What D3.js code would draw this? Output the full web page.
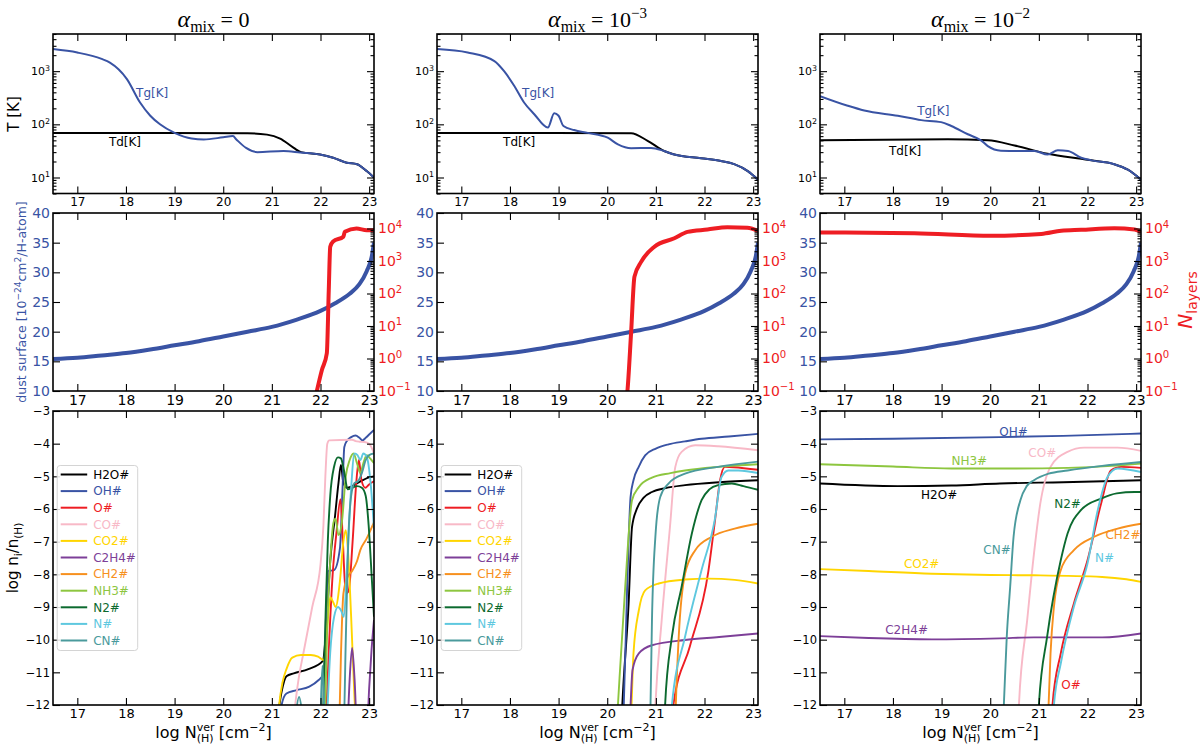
<!DOCTYPE html>
<html>
<head>
<meta charset="utf-8">
<title>alpha_mix panels</title>
<script src="https://d3js.org/d3.v7.min.js"></script>
<style>
  body { margin: 0; background: #fff; }
  svg text { font-family: "DejaVu Sans", sans-serif; }
</style>
</head>
<body>
<script>
// ---------- data ----------
const xDomain = [16.5, 23.1]
const xTicks = [17, 18, 19, 20, 21, 22, 23]
const titleExp = [null, "\u22123", "\u22122"]

// temperatures [K], pairs of [log N, T]
const tg0 = [[16.5,2600],[17.0,2240],[17.5,1700],[17.67,1450],[18.02,710],[18.29,257],[18.5,145],[18.7,100],[19.0,69],[19.35,54],[19.6,52],[20.0,57],[20.2,60],[20.27,52],[20.47,36],[20.7,30],[21.24,31.5],[21.58,29.5],[21.99,27],[22.26,23.5],[22.54,19],[22.75,17.8],[22.95,13.2],[23.1,10]]
const td0 = [[16.5,69],[20.5,68],[20.9,64],[21.17,54],[21.45,36],[21.6,30],[21.99,27],[22.26,23.5],[22.54,19],[22.75,17.8],[22.95,13.2],[23.1,10]]
const tg1 = [[16.5,2600],[17.13,2240],[17.68,1550],[17.88,1000],[18.09,525],[18.29,257],[18.5,155],[18.78,87],[18.91,162],[19.0,145],[19.1,93],[19.32,78],[19.6,69],[20.01,56],[20.22,42],[20.49,35.5],[20.9,36],[21.17,31.5],[21.38,27],[21.93,23],[22.34,20.4],[22.61,17.8],[22.89,13.2],[23.1,9.1]]
const td1 = [[16.5,69],[20.49,68],[20.83,49],[21.17,31.5],[21.38,27],[21.93,23],[22.34,20.4],[22.61,17.8],[22.89,13.2],[23.1,9.1]]
const tg2 = [[16.5,340],[17.07,224],[17.41,182],[18.1,145],[18.58,120],[18.99,110],[19.2,93],[19.54,65],[19.81,50],[19.95,39],[20.22,32],[20.64,31.5],[20.91,31.5],[21.18,27],[21.39,32.5],[21.6,31.5],[21.87,23.5],[22.08,21],[22.55,17.8],[22.83,14],[23.1,9.1]]
const td2 = [[16.5,50],[19.13,52.5],[19.95,50],[20.5,40],[21.18,28],[21.87,22.4],[22.08,21],[22.55,17.8],[22.83,14],[23.1,9.1]]

// dust surface [1e-24 cm2 / H-atom], same in all columns
const dustSurf = [[16.5,15.4],[17,15.6],[17.5,16.0],[18,16.4],[18.5,17.0],[19,17.7],[19.5,18.4],[20,19.2],[20.5,20.0],[21,20.8],[21.5,22.0],[22,23.5],[22.3,24.8],[22.6,26.4],[22.8,28.0],[22.95,30.2],[23.05,32.5],[23.1,35.0]]

// number of ice layers
const nLay0 = [[21.85,0.03],[21.93,0.107],[22.03,0.45],[22.13,1.45],[22.17,126],[22.2,2750],[22.26,4000],[22.47,5600],[22.5,7900],[22.74,10000],[22.95,8900],[23.1,8900]]
const nLay1 = [[20.38,0.03],[20.42,0.12],[20.49,5.9],[20.56,330],[20.7,955],[20.97,2750],[21.38,5000],[21.65,7900],[22.06,9300],[22.47,11000],[22.88,10500],[23.1,8500]]
const nLay2 = [[16.5,7600],[18.44,7200],[20.02,6000],[21.05,6800],[21.46,8500],[21.87,9100],[22.55,10200],[22.97,9300],[23.1,7900]]

// ice abundances log n_i/n_H
const species = ["H2O#","OH#","O#","CO#","CO2#","C2H4#","CH2#","NH3#","N2#","N#","CN#"]
const speciesColor = ["#000000","#3953a4","#ee1d23","#f8b9c7","#ffd500","#7d3f98","#f7901e","#8dc63f","#0c6a2f","#5ec8df","#4a9a9c"]

const H2O_0 = [[21.1,-12.6],[21.2,-11.6],[21.3,-11.12],[21.45,-11.03],[21.75,-10.9],[22.05,-10.65],[22.12,-9.6],[22.2,-7.6],[22.3,-6.2],[22.37,-5.2],[22.42,-4.65],[22.47,-5.2],[22.55,-5.35],[22.65,-5.3],[22.8,-5.17],[23.0,-5.03],[23.1,-5.0]]
const OH_0 = [[21.15,-12.6],[21.2,-12.0],[21.3,-11.65],[21.5,-11.55],[21.77,-11.44],[21.95,-11.25],[22.07,-11.03],[22.12,-9.0],[22.15,-7.9],[22.28,-7.87],[22.4,-7.2],[22.45,-5.5],[22.49,-4.1],[22.55,-3.9],[22.63,-3.8],[22.72,-3.75],[22.8,-3.82],[22.86,-3.9],[22.93,-3.82],[23.0,-3.72],[23.1,-3.58]]
const O_0 = [[22.1,-13],[22.18,-10],[22.25,-8.0],[22.33,-6.7],[22.41,-5.7],[22.46,-7.0],[22.52,-8.6],[22.58,-8.5],[22.66,-7.0],[22.73,-5.3],[22.79,-4.5],[22.84,-5.1],[22.92,-5.35],[23.0,-5.25],[23.1,-5.15]]
const CO_0 = [[21.42,-13],[21.48,-12],[21.55,-11.2],[21.65,-10.4],[21.83,-9.0],[22.0,-7.7],[22.06,-6.5],[22.1,-5.0],[22.14,-4.0],[22.18,-3.9],[22.65,-3.88],[22.72,-3.92],[22.8,-3.94],[22.9,-3.95],[23.0,-4.0],[23.1,-4.3]]
const CO2_0 = [[21.1,-13],[21.15,-12],[21.22,-11.3],[21.3,-10.9],[21.42,-10.55],[21.6,-10.47],[21.8,-10.47],[21.95,-10.52],[22.07,-10.63],[22.14,-9.6],[22.2,-8.7],[22.26,-8.85],[22.31,-9.0],[22.4,-8.2],[22.47,-7.0],[22.52,-6.65],[22.57,-7.4],[22.63,-9.3],[22.7,-11.8],[22.75,-13]]
const C2H4_0 = [[22.55,-13],[22.6,-11.2],[22.65,-10.25],[22.7,-11.2],[22.76,-13],[22.95,-13],[23.0,-11.5],[23.05,-10.3],[23.1,-9.4]]
const CH2_0 = [[22.38,-13],[22.42,-10.5],[22.47,-8.6],[22.55,-8.1],[22.65,-7.9],[22.75,-7.6],[22.82,-7.25],[22.95,-6.9],[23.1,-6.4]]
const NH3_0 = [[22.08,-13],[22.14,-9.5],[22.2,-7.6],[22.27,-6.4],[22.31,-6.3],[22.37,-6.8],[22.44,-6.4],[22.52,-5.0],[22.6,-4.5],[22.68,-4.3],[22.75,-4.6],[22.82,-4.9],[22.88,-4.6],[22.95,-4.35],[23.02,-4.45],[23.1,-4.6]]
const N2_0 = [[22.04,-13],[22.1,-9.5],[22.15,-7.0],[22.2,-5.6],[22.28,-4.7],[22.36,-4.42],[22.42,-4.45],[22.48,-4.8],[22.56,-5.4],[22.65,-5.35],[22.75,-5.3],[22.85,-5.35],[22.93,-5.6],[22.99,-6.5],[23.05,-8.0],[23.1,-9.3]]
const N_0 = [[22.12,-13],[22.2,-10.4],[22.28,-9.3],[22.36,-9.0],[22.42,-9.1],[22.48,-9.3],[22.55,-7.6],[22.62,-5.6],[22.7,-4.3],[22.76,-4.35],[22.82,-4.5],[22.88,-4.3],[22.95,-4.4],[23.03,-5.2],[23.1,-6.6]]
const CN_0 = [[21.45,-13],[21.5,-12.2],[21.56,-11.75],[21.62,-12.2],[21.68,-13],[21.98,-13],[22.04,-10.8],[22.1,-13],[22.47,-13],[22.52,-10.0],[22.57,-7.0],[22.63,-5.6],[22.7,-5.2],[22.77,-5.15],[22.85,-4.9],[22.93,-4.5],[23.0,-4.35],[23.1,-4.3]]

const H2O_1 = [[20.28,-13],[20.31,-12],[20.44,-8.89],[20.51,-6.55],[20.61,-5.99],[20.75,-5.65],[20.92,-5.48],[21.2,-5.36],[21.6,-5.27],[22.3,-5.18],[23.1,-5.12]]
const OH_1 = [[20.3,-13],[20.34,-12],[20.41,-8.38],[20.48,-5.63],[20.54,-5.12],[20.65,-4.7],[20.78,-4.36],[21.0,-4.15],[21.26,-4.02],[21.6,-3.93],[21.94,-3.85],[22.5,-3.78],[23.1,-3.7]]
const O_1 = [[21.33,-13],[21.36,-12],[21.7,-10.2],[22.08,-7.9],[22.22,-6.3],[22.32,-5.12],[22.42,-4.71],[22.6,-4.72],[23.1,-4.8]]
const CO_1 = [[20.96,-13],[20.99,-12],[21.12,-9.4],[21.29,-6.55],[21.4,-4.71],[21.53,-4.25],[21.81,-4.05],[22.28,-4.08],[23.1,-4.2]]
const CO2_1 = [[20.47,-13],[20.5,-12],[20.54,-10.42],[20.65,-9.1],[20.78,-8.49],[21.06,-8.28],[21.6,-8.16],[22.08,-8.13],[22.62,-8.17],[23.1,-8.28]]
const C2H4_1 = [[20.45,-13],[20.48,-12],[20.52,-10.93],[20.65,-10.42],[20.92,-10.17],[21.6,-10.01],[22.3,-9.92],[23.1,-9.81]]
const CH2_1 = [[21.39,-13],[21.41,-12],[21.47,-9.91],[21.6,-7.98],[21.81,-7.26],[22.15,-6.85],[22.62,-6.6],[23.1,-6.45]]
const NH3_1 = [[20.18,-13],[20.22,-12],[20.37,-8.38],[20.51,-5.73],[20.65,-5.33],[20.92,-5.04],[21.3,-4.9],[21.6,-4.82],[22.28,-4.71],[23.1,-4.63]]
const N2_1 = [[21.17,-13],[21.19,-12],[21.33,-9.91],[21.53,-8.38],[21.74,-6.75],[21.94,-5.73],[22.1,-5.4],[22.28,-5.27],[22.56,-5.22],[22.8,-5.3],[23.1,-5.41]]
const N_1 = [[21.3,-13],[21.33,-12],[21.6,-9.91],[21.94,-7.87],[22.21,-6.34],[22.35,-5.02],[22.49,-4.82],[22.7,-4.82],[23.1,-4.9]]
const CN_1 = [[20.87,-13],[20.89,-12],[20.92,-9.4],[20.99,-6.85],[21.09,-5.63],[21.26,-5.22],[21.6,-4.92],[22.28,-4.71],[23.1,-4.55]]

const H2O_2 = [[16.5,-5.22],[18.1,-5.3],[19.2,-5.28],[20.2,-5.22],[21.5,-5.18],[23.1,-5.12]]
const OH_2 = [[16.5,-3.87],[18,-3.85],[20.2,-3.8],[21.5,-3.76],[23.1,-3.69]]
const O_2 = [[21.25,-13],[21.28,-12],[21.45,-10.42],[21.72,-8.89],[22.0,-7.57],[22.28,-5.83],[22.48,-4.82],[22.69,-4.71],[23.1,-4.74]]
const CO_2 = [[20.56,-13],[20.59,-12],[20.76,-9.4],[20.9,-7.36],[21.03,-5.83],[21.24,-4.71],[21.59,-4.25],[21.93,-4.12],[22.62,-4.12],[23.1,-4.22]]
const CO2_2 = [[16.5,-7.84],[17.5,-7.9],[18.8,-7.98],[20.0,-8.02],[20.9,-8.03],[22.3,-8.08],[22.8,-8.15],[23.1,-8.23]]
const C2H4_2 = [[16.5,-9.89],[17.5,-9.95],[18.8,-9.99],[20.2,-9.96],[20.9,-9.93],[22.3,-9.93],[23.1,-9.81]]
const CH2_2 = [[21.18,-13],[21.2,-12],[21.24,-10.42],[21.31,-8.99],[21.45,-7.87],[21.72,-7.26],[22.14,-6.85],[22.62,-6.6],[23.1,-6.45]]
const NH3_2 = [[16.5,-4.63],[18,-4.7],[19.2,-4.76],[20.5,-4.76],[21.6,-4.74],[22.5,-4.68],[23.1,-4.61]]
const N2_2 = [[20.98,-13],[21.0,-12],[21.17,-9.91],[21.45,-7.57],[21.59,-6.75],[21.86,-6.04],[22.28,-5.68],[22.6,-5.52],[22.97,-5.48],[23.1,-5.48]]
const N_2 = [[21.28,-13],[21.31,-12],[21.45,-10.73],[21.72,-8.99],[22.0,-7.67],[22.21,-6.04],[22.41,-5.02],[22.62,-4.76],[23.1,-4.87]]
const CN_2 = [[20.25,-13],[20.28,-12],[20.34,-9.91],[20.41,-8.38],[20.48,-6.85],[20.62,-5.73],[20.75,-5.3],[20.9,-5.12],[21.2,-4.92],[21.59,-4.82],[22.3,-4.68],[23.1,-4.56]]

// in-line label positions (right column), species order
const labelX = [18.95, 20.48, 21.66, 21.07, 18.59, 18.28, 22.73, 19.57, 21.59, 22.35, 20.14]
const labelY = [-5.57, -3.62, -11.39, -4.28, -7.66, -9.68, -6.8, -4.53, -5.85, -7.48, -7.26]

// temperature label positions [log N, T]
const tgLabel = [[18.54,400],[18.58,400],[18.83,176]]
const tdLabel = [[17.98,46],[18.19,46],[18.25,32]]

const tempG = [tg0, tg1, tg2]
const tempD = [td0, td1, td2]
const nLayers = [nLay0, nLay1, nLay2]
const ice = [
  [H2O_0, OH_0, O_0, CO_0, CO2_0, C2H4_0, CH2_0, NH3_0, N2_0, N_0, CN_0],
  [H2O_1, OH_1, O_1, CO_1, CO2_1, C2H4_1, CH2_1, NH3_1, N2_1, N_1, CN_1],
  [H2O_2, OH_2, O_2, CO_2, CO2_2, C2H4_2, CH2_2, NH3_2, N2_2, N_2, CN_2]
]

// ---------- layout ----------
const W = 1200, H = 748
const colLeft = [53, 437, 820], colW = 321
const rowT = [34, 193.5], rowS = [213, 391], rowI = [411, 705]
const blue = "#3953a4", red = "#ee1d23"
const minus = "\u2212"

const svg = d3.select("body").append("svg").attr("width", W).attr("height", H)
const defs = svg.append("defs")

const styleAxis = (g, size, color) => {
  g.attr("font-family", "DejaVu Sans").attr("font-size", size)
  g.select(".domain").remove()
  g.selectAll(".tick line").attr("stroke", "#000").attr("stroke-width", 1.1)
  g.selectAll(".tick text").attr("fill", color || "#000")
}

const addSup = (g, exps) => {
  g.selectAll(".tick text").append("tspan")
    .attr("dy", "-0.55em").attr("font-size", "72%")
    .text((d, i) => exps[i])
}

const frame = (x0, y0, y1) => {
  svg.append("rect").attr("x", x0).attr("y", y0).attr("width", colW).attr("height", y1 - y0)
    .attr("fill", "none").attr("stroke", "#000").attr("stroke-width", 1.6)
}

const clip = (id, x0, y0, y1) => {
  defs.append("clipPath").attr("id", id).append("rect")
    .attr("x", x0).attr("y", y0).attr("width", colW).attr("height", y1 - y0)
}

const xAxes = (xs, y0, y1, size, pad) => {
  const b = svg.append("g").attr("transform", `translate(0,${y1})`)
    .call(d3.axisBottom(xs).tickValues(xTicks).tickSize(-7).tickPadding(pad).tickFormat(d3.format("d")))
  styleAxis(b, size)
  const t = svg.append("g").attr("transform", `translate(0,${y0})`)
    .call(d3.axisTop(xs).tickValues(xTicks).tickSize(-7).tickFormat(""))
  styleAxis(t, size)
}

for (let c = 0; c < 3; c++) {
  const x0 = colLeft[c], x1 = x0 + colW
  const xs = d3.scaleLinear().domain(xDomain).range([x0, x1])

  // title
  const title = svg.append("text").attr("x", x0 + colW / 2).attr("y", 26.5)
    .attr("text-anchor", "middle").style("font-family", "'Liberation Serif', serif").attr("font-size", 22)
  title.append("tspan").attr("font-style", "italic").attr("font-size", 24).text("\u03b1")
  title.append("tspan").attr("font-size", 16).attr("dy", 5).text("mix")
  title.append("tspan").attr("dy", -5).text(" = ")
  if (titleExp[c]) {
    title.append("tspan").text("10")
    title.append("tspan").attr("font-size", 15).attr("dy", -9).text(titleExp[c])
  } else {
    title.append("tspan").text("0")
  }

  // ---- temperature panel ----
  const yT = d3.scaleLog().domain([5, 5000]).range([rowT[1], rowT[0]])
  clip("cT" + c, x0, rowT[0], rowT[1])
  const tLine = d3.line().x(d => xs(d[0])).y(d => yT(d[1])).curve(d3.curveMonotoneX)
  const gT = svg.append("g").attr("clip-path", `url(#cT${c})`)
  gT.append("path").attr("d", tLine(tempD[c])).attr("fill", "none").attr("stroke", "#000").attr("stroke-width", 2)
  gT.append("path").attr("d", tLine(tempG[c])).attr("fill", "none").attr("stroke", blue).attr("stroke-width", 2)
  svg.append("text").attr("x", xs(tgLabel[c][0])).attr("y", yT(tgLabel[c][1])).attr("dy", "0.35em")
    .attr("text-anchor", "middle").attr("font-size", 12).attr("fill", blue).text("Tg[K]")
  svg.append("text").attr("x", xs(tdLabel[c][0])).attr("y", yT(tdLabel[c][1])).attr("dy", "0.35em")
    .attr("text-anchor", "middle").attr("font-size", 12).attr("fill", "#000").text("Td[K]")
  frame(x0, rowT[0], rowT[1])
  xAxes(xs, rowT[0], rowT[1], 12, 3.5)
  const tMajor = [10, 100, 1000]
  const tMinor = yT.ticks().filter(v => tMajor.indexOf(v) < 0 && v >= 5)
  const gTL = svg.append("g").attr("transform", `translate(${x0},0)`)
    .call(d3.axisLeft(yT).tickValues(tMajor).tickSize(-7).tickPadding(3).tickFormat(() => "10"))
  styleAxis(gTL, 11)
  addSup(gTL, ["1", "2", "3"])
  const gTLm = svg.append("g").attr("transform", `translate(${x0},0)`)
    .call(d3.axisLeft(yT).tickValues(tMinor).tickSize(-3.5).tickFormat(""))
  styleAxis(gTLm, 11)
  const gTR = svg.append("g").attr("transform", `translate(${x1},0)`)
    .call(d3.axisRight(yT).tickValues(tMajor).tickSize(-7).tickFormat(""))
  styleAxis(gTR, 11)
  const gTRm = svg.append("g").attr("transform", `translate(${x1},0)`)
    .call(d3.axisRight(yT).tickValues(tMinor).tickSize(-3.5).tickFormat(""))
  styleAxis(gTRm, 11)

  // ---- dust surface / N_layers panel ----
  const yS = d3.scaleLinear().domain([10, 40]).range([rowS[1], rowS[0]])
  const yN = d3.scaleLog().domain([0.1, 3e4]).range([rowS[1], rowS[0]])
  clip("cS" + c, x0, rowS[0], rowS[1])
  const gS = svg.append("g").attr("clip-path", `url(#cS${c})`)
  gS.append("path").attr("d", d3.line().x(d => xs(d[0])).y(d => yS(d[1])).curve(d3.curveMonotoneX)(dustSurf))
    .attr("fill", "none").attr("stroke", blue).attr("stroke-width", 4)
  gS.append("path").attr("d", d3.line().x(d => xs(d[0])).y(d => yN(d[1])).curve(d3.curveMonotoneX)(nLayers[c]))
    .attr("fill", "none").attr("stroke", red).attr("stroke-width", 4)
  frame(x0, rowS[0], rowS[1])
  xAxes(xs, rowS[0], rowS[1], 14, 4)
  const gSL = svg.append("g").attr("transform", `translate(${x0},0)`)
    .call(d3.axisLeft(yS).tickValues([10, 15, 20, 25, 30, 35, 40]).tickSize(-7).tickPadding(3))
  styleAxis(gSL, 14, blue)
  const nMajor = [0.1, 1, 10, 100, 1000, 10000]
  const nMinor = yN.ticks().filter(v => nMajor.every(m => Math.abs(m - v) > m * 1e-6))
  const gSR = svg.append("g").attr("transform", `translate(${x1},0)`)
    .call(d3.axisRight(yN).tickValues(nMajor).tickSize(-7).tickPadding(4).tickFormat(() => "10"))
  styleAxis(gSR, 14, red)
  addSup(gSR, [minus + "1", "0", "1", "2", "3", "4"])
  const gSRm = svg.append("g").attr("transform", `translate(${x1},0)`)
    .call(d3.axisRight(yN).tickValues(nMinor).tickSize(-3.5).tickFormat(""))
  styleAxis(gSRm, 14)

  // ---- ice abundance panel ----
  const yI = d3.scaleLinear().domain([-12, -3]).range([rowI[1], rowI[0]])
  clip("cI" + c, x0, rowI[0], rowI[1])
  const iLine = d3.line().x(d => xs(d[0])).y(d => yI(d[1])).curve(d3.curveMonotoneX)
  const gI = svg.append("g").attr("clip-path", `url(#cI${c})`)
  ice[c].forEach((s, i) => {
    gI.append("path").attr("d", iLine(s)).attr("fill", "none")
      .attr("stroke", speciesColor[i]).attr("stroke-width", 1.9)
  })
  frame(x0, rowI[0], rowI[1])
  xAxes(xs, rowI[0], rowI[1], 13, 3.5)
  const iTicks = d3.range(-12, -2)
  const gIL = svg.append("g").attr("transform", `translate(${x0},0)`)
    .call(d3.axisLeft(yI).tickValues(iTicks).tickSize(-7).tickPadding(3).tickFormat(d => minus + Math.abs(d)))
  styleAxis(gIL, 11.5)
  const gIR = svg.append("g").attr("transform", `translate(${x1},0)`)
    .call(d3.axisRight(yI).tickValues(iTicks).tickSize(-7).tickFormat(""))
  styleAxis(gIR, 11.5)

  if (c < 2) {
    const lg = svg.append("g").attr("transform", `translate(${x0 + 4.2},465.5)`)
    lg.append("rect").attr("width", 80.5).attr("height", 185).attr("rx", 3)
      .attr("fill", "#fff").attr("fill-opacity", 0.85).attr("stroke", "#d4d4d4")
    species.forEach((s, i) => {
      const yy = 9 + i * 16.6
      lg.append("line").attr("x1", 3.5).attr("x2", 30).attr("y1", yy).attr("y2", yy)
        .attr("stroke", speciesColor[i]).attr("stroke-width", 2)
      lg.append("text").attr("x", 36).attr("y", yy).attr("dy", "0.36em")
        .attr("font-size", 12).attr("fill", speciesColor[i]).text(s)
    })
  } else {
    species.forEach((s, i) => {
      svg.append("text").attr("x", xs(labelX[i])).attr("y", yI(labelY[i])).attr("dy", "0.36em")
        .attr("text-anchor", "middle").attr("font-size", 12).attr("fill", speciesColor[i]).text(s)
    })
  }

  // x label
  const xl = svg.append("text").attr("x", x0 + colW / 2).attr("y", 738)
    .attr("text-anchor", "middle").attr("font-size", 16)
  xl.append("tspan").text("log N")
  const sup = xl.append("tspan").attr("font-size", 11).attr("dy", -7).text("ver")
  const supW = sup.node().getComputedTextLength()
  xl.append("tspan").attr("font-size", 11).attr("dx", -supW).attr("dy", 11).text("(H)")
  xl.append("tspan").attr("dy", -4).text(" [cm")
  xl.append("tspan").attr("font-size", 11).attr("dy", -7).text(minus + "2")
  xl.append("tspan").attr("dy", 7).text("]")
}

// y labels
const yl1 = svg.append("text").attr("transform", "translate(19,114) rotate(-90)")
  .attr("text-anchor", "middle").attr("font-size", 15).text("T [K]")

const yl2 = svg.append("text").attr("transform", "translate(26,302) rotate(-90)")
  .attr("text-anchor", "middle").attr("font-size", 12.5).attr("fill", blue)
yl2.append("tspan").text("dust surface [10")
yl2.append("tspan").attr("font-size", 9).attr("dy", -5).text(minus + "24")
yl2.append("tspan").attr("dy", 5).text("cm")
yl2.append("tspan").attr("font-size", 9).attr("dy", -5).text("2")
yl2.append("tspan").attr("dy", 5).text("/H-atom]")

const yl3 = svg.append("text").attr("transform", "translate(18,558) rotate(-90)")
  .attr("text-anchor", "middle").attr("font-size", 15)
yl3.append("tspan").text("log n")
yl3.append("tspan").attr("font-size", 10.5).attr("dy", 4).text("i")
yl3.append("tspan").attr("dy", -4).text("/n")
yl3.append("tspan").attr("font-size", 10.5).attr("dy", 4).text("(H)")

const yl4 = svg.append("text").attr("transform", "translate(1192,300) rotate(-90)")
  .attr("text-anchor", "middle").attr("font-size", 20).attr("fill", red)
yl4.append("tspan").attr("font-style", "italic").text("N")
yl4.append("tspan").attr("font-size", 14).attr("dy", 5).text("layers")
</script>
</body>
</html>
